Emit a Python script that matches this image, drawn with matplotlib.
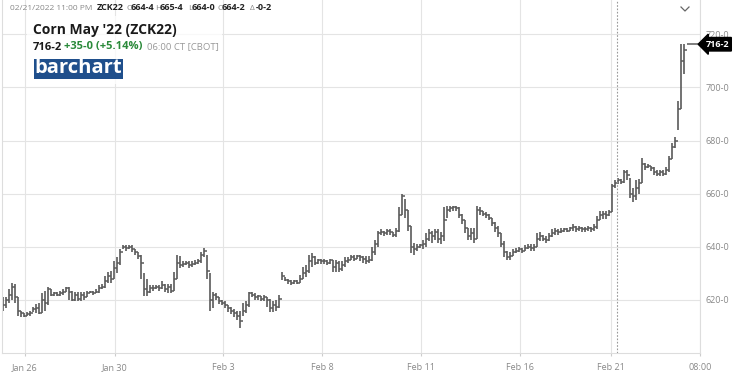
import numpy as np
import matplotlib.pyplot as plt
from matplotlib.patches import Rectangle
from matplotlib.lines import Line2D

plt.rcParams['font.family'] = ['Open Sans', 'DejaVu Sans']

# Corn May '22 (ZCK22) intraday bars (one bar per ~3 px)
closes = [
    618, 620, 622, 625, 621, 616, 615, 614, 614.5, 615,
    616.5, 617, 615, 620, 619, 624, 622, 622.5, 622, 622.5,
    623, 624.5, 623, 620, 622, 620.5, 622, 621, 622.5, 623,
    622.5, 623, 624.5, 625, 627, 629, 628, 632, 634, 638,
    640, 639.5, 640, 639, 638, 636.5, 634, 624, 623, 624.5,
    624.5, 625, 624.5, 625.5, 624, 625, 623.5, 628, 634, 633,
    633.5, 634, 633, 633.5, 634, 634.5, 637, 638.5, 631, 620,
    622, 621, 619.5, 619, 618, 617, 616, 615, 614, 612,
    616, 618, 622.5, 622, 621, 621.5, 620.5, 621, 620, 617,
    618, 617.5, 620.5, 629, 627.5, 627, 626.5, 627, 626.5, 628,
    630, 631, 634.5, 636, 634, 635, 634.5, 634.5, 634, 635,
    632.5, 634, 631.5, 633, 634.5, 635, 636, 635.5, 636.5, 636,
    635.5, 634.5, 635, 638, 641, 645, 645.5, 645, 646, 645.5,
    644.5, 646, 652, 659, 654, 648, 640, 639, 640, 640.5,
    641, 643, 645, 644, 645.5, 643, 644, 650, 654, 654.5,
    655, 654.5, 652, 650, 647, 644, 645, 643, 654, 653.5,
    652.5, 652, 651, 649, 647, 645, 641, 638, 636, 636.5,
    638, 638.5, 639, 638.5, 639.5, 640, 639.5, 640, 643, 644,
    643, 642.5, 644, 645, 646, 645.5, 646, 646.5, 646, 647,
    647.5, 646.5, 647, 646.5, 646.5, 647, 646.5, 647.5, 650, 652,
    652.5, 652, 653, 663, 664, 665, 664.5, 668, 667, 660,
    659, 662, 664, 671, 670, 670.5, 669.5, 668, 667.5, 668,
    667.5, 669, 673, 677.5, 680, 692, 710, 714, 716.25, 716.25,
    716.25, 716.25,
]
highs = [
    621, 621, 624, 626.5, 626, 621, 616, 615, 615.5, 616,
    617.5, 618.5, 619, 622.5, 623.5, 625, 624, 623, 623, 623.5,
    624, 625, 625, 623.5, 623, 623, 623, 623, 623.5, 623.5,
    623.5, 624, 625.5, 626, 629, 630.5, 631, 634.5, 636, 639,
    640.5, 640.5, 640.5, 640.5, 639, 638, 637, 630, 628, 625.5,
    625.5, 625.5, 625.5, 627, 626, 626, 626, 630.5, 637, 636.5,
    634.5, 634.5, 634.5, 634.5, 635, 635.5, 638, 639.5, 637, 630,
    623, 622.5, 621, 620, 619.5, 618, 617.5, 616.5, 616, 616,
    619, 619.5, 623, 623, 622.5, 622, 621.5, 622, 621, 620.5,
    619.5, 620, 622, 630.5, 628.5, 628, 627.5, 627.5, 627.5, 629.5,
    632.5, 633, 637, 637.5, 636.5, 635.5, 635.5, 635.5, 635, 635.5,
    635, 635, 634.5, 634.5, 636, 636, 637, 637, 637, 637,
    636.5, 636.5, 636.5, 640, 642.5, 646, 646.5, 646, 646.5, 646.5,
    645.5, 647, 655, 660, 658, 654, 648, 641.5, 641, 641,
    642.5, 645, 646.5, 646, 646.5, 646.5, 645.5, 655, 655.5, 655.5,
    655.5, 655.5, 655, 652.5, 650, 647, 647, 647, 655.5, 655,
    653.5, 653, 652.5, 651, 649.5, 648, 645, 642, 638.5, 638,
    639, 639.5, 640, 639.5, 640.5, 641, 641, 641, 645, 645.5,
    644.5, 644, 645, 646.5, 647, 646.5, 647, 647, 647, 647.5,
    648.5, 648, 648, 647.5, 647.5, 648, 647.5, 648.5, 651.5, 653.5,
    653.5, 653.5, 654, 663.5, 665, 666, 665.5, 669, 669, 666,
    662, 665, 665.5, 673.5, 671.5, 671, 670.5, 670, 669, 669,
    669, 670, 674, 679, 681.5, 695, 716.25, 716.5, 716.25, 716.25,
    716.25, 716.25,
]
lows = [
    616, 617, 619, 620, 619, 614, 613.5, 613.5, 614, 614,
    615.5, 615, 614.5, 615, 616, 618, 621.5, 621.5, 621.5, 621.5,
    622, 623, 620, 619.5, 619.5, 619.5, 619.5, 620, 621, 622.5,
    622, 622.5, 622.5, 624, 624.5, 626.5, 626.5, 628, 630, 633,
    639, 638.5, 639, 638, 637, 635.5, 628, 621.5, 621.5, 622.5,
    623.5, 624, 623.5, 624, 623, 622.5, 622.5, 623.5, 628, 632,
    632.5, 633, 632, 632.5, 633, 633.5, 634, 636, 628, 616,
    617, 620, 618.5, 618, 617, 615.5, 614.5, 613.5, 612.5, 609.5,
    614, 615, 617.5, 621, 620, 620, 619.5, 619.5, 617.5, 615.5,
    615.5, 616, 617, 627.5, 627, 626, 625.5, 626, 626, 626.5,
    628, 628.5, 630, 632.5, 633, 633.5, 633.5, 633.5, 633, 633.5,
    630.5, 630.5, 630.5, 631, 632.5, 634, 635, 634.5, 635.5, 634.5,
    634, 633.5, 634, 634.5, 637, 640, 644.5, 644, 644.5, 644.5,
    643.5, 643.5, 645.5, 652, 651, 646, 637.5, 637, 638.5, 639.5,
    639, 640, 642, 641.5, 642.5, 641.5, 641, 642, 651, 653,
    653.5, 653.5, 651, 648.5, 645, 642.5, 642.5, 641.5, 643, 652,
    651.5, 651, 650, 648, 645.5, 643.5, 640, 636, 635, 635,
    636.5, 637.5, 638, 637.5, 638.5, 639, 638.5, 638.5, 640, 642,
    642, 641.5, 642, 643.5, 644.5, 644.5, 645, 645.5, 645.5, 646,
    646, 645.5, 646, 645.5, 645.5, 646, 645.5, 646, 646.5, 650,
    650.5, 650.5, 651.5, 653, 662, 663.5, 663.5, 664, 665, 658.5,
    657, 657.5, 660, 664, 669, 669.5, 668.5, 667, 666.5, 666.5,
    666.5, 667, 668, 673, 677, 684, 692, 705, 716.25, 716.25,
    716.25, 716.25,
]
# open of each bar taken as the previous bar's close
opens = [closes[0]] + closes[:-1]

# x axis (bar index) labels
tick_pos = [7.33, 37.33, 73.33, 106.33, 139.33, 172.33, 202.67, 232.33]
tick_labels = ['Jan 26', 'Jan 30', 'Feb 3', 'Feb 8', 'Feb 11', 'Feb 16', 'Feb 21', '08:00']
price_ticks = [620, 640, 660, 680, 700, 720]
session_line = 204.67
last_price = 716.25

fig = plt.figure(figsize=(7.5, 3.86), dpi=100)
ax = fig.add_axes([2 / 750, 33 / 386, 698 / 750, 353 / 386])

x = np.arange(len(closes))
bar_col = '#5a5a5a'
ax.vlines(x, lows, highs, color=bar_col, lw=1.2)
ax.hlines(opens, x - 0.5, x, color=bar_col, lw=1.1)
ax.hlines(closes, x, x + 0.5, color=bar_col, lw=1.1)

ax.set_xlim(-0.33, 232.33)
ax.set_ylim(600, 732.9)

ax.set_xticks(tick_pos)
ax.set_xticklabels(tick_labels)
ax.set_yticks(price_ticks)
ax.set_yticklabels([f'{p}-0' for p in price_ticks])
ax.yaxis.tick_right()
ax.tick_params(axis='both', colors='#cccccc', labelcolor='#888888', labelsize=6.5, length=2)
ax.tick_params(axis='y', length=0, pad=4)
ax.tick_params(axis='x', pad=5)
ax.grid(True, color='#e4e4e4', lw=0.8)
ax.set_axisbelow(True)
ax.spines['top'].set_visible(False)
for side in ['left', 'right', 'bottom']:
    ax.spines[side].set_color('#dddddd')

# session divider and last price line
ax.axvline(session_line, color='#999999', lw=0.8, ls=(0, (1.5, 1.5)))
ax.hlines(last_price, x[-1], 232.33, color='#888888', lw=0.8, ls=(0, (1.5, 1.5)))
ax.annotate('716-2', xy=(1.0, last_price), xycoords=('axes fraction', 'data'),
            xytext=(4, 0), textcoords='offset points', ha='left', va='center',
            fontsize=6.5, fontweight='bold', color='white', annotation_clip=False,
            bbox=dict(boxstyle='larrow,pad=0.25', fc='black', ec='black'))


def px(xp, yp):
    return xp / 750, 1 - yp / 386


# header row
hdr = [(10, '02/21/2022 11:00 PM', '#888888', 'normal'),
       (97, 'ZCK22', '#222222', 'bold'),
       (126, 'O', '#888888', 'normal'), (131, '664-4', '#222222', 'bold'),
       (155, 'H', '#888888', 'normal'), (160, '665-4', '#222222', 'bold'),
       (188, 'L', '#888888', 'normal'), (192, '664-0', '#222222', 'bold'),
       (217, 'C', '#888888', 'normal'), (222, '664-2', '#222222', 'bold'),
       (250, 'Δ', '#888888', 'normal'), (256, '-0-2', '#222222', 'bold')]
for xp, s, c, w in hdr:
    fs = 6 if w == 'normal' else 6.5
    fig.text(*px(xp, 8), s, color=c, fontweight=w, fontsize=fs, va='center', ha='left')

# chevron top right
fig.add_artist(Line2D([681 / 750, 685 / 750, 689 / 750],
                      [1 - 7 / 386, 1 - 11 / 386, 1 - 7 / 386],
                      color='#666666', lw=0.9))

# title block
fig.patches.append(Rectangle(px(27, 84), 195 / 750, 68 / 386, transform=fig.transFigure,
                             fc='white', ec='none', alpha=0.75, zorder=2))
fig.text(*px(33, 30), "Corn May '22 (ZCK22)", fontsize=10, fontweight='bold',
         color='#1a1a1a', va='center', ha='left', zorder=3)
fig.text(*px(33, 47), '716-2', fontsize=8, fontweight='bold', color='#1a1a1a',
         va='center', ha='left', zorder=3)
fig.text(*px(64, 47), '+35-0 (+5.14%)', fontsize=8, fontweight='bold', color='#2a8a3a',
         va='center', ha='left', zorder=3)
fig.text(*px(147, 47), '06:00 CT [CBOT]', fontsize=6.8, color='#999999',
         va='center', ha='left', zorder=3)

# barchart logo
fig.patches.append(Rectangle(px(34, 79), 89 / 750, 20 / 386, transform=fig.transFigure,
                             fc='#1f4f8c', ec='none', zorder=3))
fig.text(*px(78.5, 68), 'barchart', fontsize=14.5, fontweight='bold', color='white',
         va='center', ha='center', zorder=4)

fig.savefig('out.png', dpi=100)
